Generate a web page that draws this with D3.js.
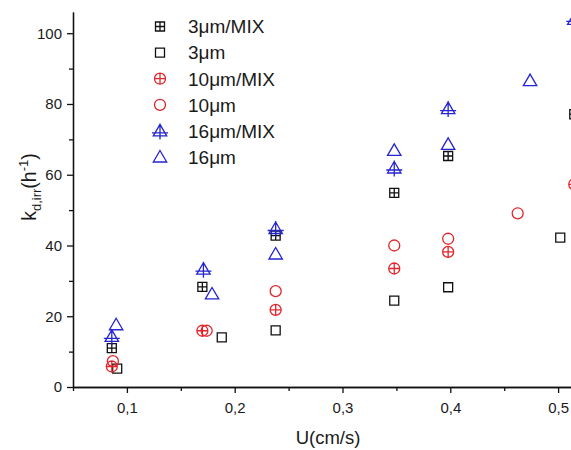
<!DOCTYPE html>
<html>
<head>
<meta charset="utf-8">
<script src="https://cdn.jsdelivr.net/npm/d3@7"></script>
<style>
  body { margin: 0; background: #fff; }
  svg { display: block; font-family: "Liberation Sans", Arial, sans-serif; }
</style>
</head>
<body>
<svg id="chart" width="571" height="450"></svg>
<script>
// series values
const seriesNames = ["3\u03bcm/MIX", "3\u03bcm", "10\u03bcm/MIX", "10\u03bcm", "16\u03bcm/MIX", "16\u03bcm"];

const x3mix = [0.086, 0.170, 0.238, 0.348, 0.398, 0.515];
const y3mix = [11.0, 28.3, 42.8, 54.9, 65.3, 77.1];

const x3 = [0.091, 0.188, 0.238, 0.348, 0.398, 0.502];
const y3 = [5.2, 14.0, 16.0, 24.4, 28.2, 42.2];

const x10mix = [0.086, 0.170, 0.238, 0.348, 0.398, 0.515];
const y10mix = [5.8, 15.9, 21.8, 33.5, 38.2, 57.3];

const x10 = [0.087, 0.174, 0.238, 0.348, 0.398, 0.4625];
const y10 = [7.3, 15.9, 27.1, 40.0, 41.9, 49.1];

const x16mix = [0.086, 0.171, 0.238, 0.348, 0.398, 0.515];
const y16mix = [14.3, 33.3, 44.8, 61.9, 78.7, 103.9];

const x16 = [0.090, 0.179, 0.238, 0.348, 0.398, 0.474];
const y16 = [17.6, 26.3, 37.6, 66.9, 68.6, 86.6];

// tick labels
const xMajor = [0.1, 0.2, 0.3, 0.4, 0.5];
const xMinor = [0.05, 0.15, 0.25, 0.35, 0.45];
const yMajor = [0, 20, 40, 60, 80, 100];
const yMinor = [10, 30, 50, 70, 90];

const black = "#111";
const red = "#e3262c";
const blue = "#2424d2";

const series = [
  { name: seriesNames[0], xs: x3mix, ys: y3mix, shape: "square", cross: true, color: black },
  { name: seriesNames[1], xs: x3, ys: y3, shape: "square", cross: false, color: black },
  { name: seriesNames[2], xs: x10mix, ys: y10mix, shape: "circle", cross: true, color: red },
  { name: seriesNames[3], xs: x10, ys: y10, shape: "circle", cross: false, color: red },
  { name: seriesNames[4], xs: x16mix, ys: y16mix, shape: "triangle", cross: true, color: blue },
  { name: seriesNames[5], xs: x16, ys: y16, shape: "triangle", cross: false, color: blue }
];

const svg = d3.select("#chart");
const padLeft = 73, padBottom = 387, padTop = 12;

const xScale = d3.scaleLinear().domain([0.05, 0.525]).range([padLeft, padLeft + 0.475 * 1078]);
const yScale = d3.scaleLinear().domain([0, 106]).range([padBottom, padTop]);

// marker outlines
function markerPath(shape, cross) {
  const p = d3.path();
  if (shape === "square") {
    const h = 4.5;
    p.rect(-h, -h, 2 * h, 2 * h);
    if (cross) {
      p.moveTo(-h, 0); p.lineTo(h, 0);
      p.moveTo(0, -h); p.lineTo(0, h);
    }
  } else if (shape === "circle") {
    const r = 5.5;
    p.moveTo(r, 0);
    p.arc(0, 0, r, 0, 2 * Math.PI);
    if (cross) {
      p.moveTo(-r, 0); p.lineTo(r, 0);
      p.moveTo(0, -r); p.lineTo(0, r);
    }
  } else {
    p.moveTo(0, -6.5);
    p.lineTo(6.7, 5);
    p.lineTo(-6.7, 5);
    p.closePath();
    if (cross) {
      p.moveTo(0, -7.5); p.lineTo(0, 8.5);
      p.moveTo(-8, 2); p.lineTo(8, 2);
    }
  }
  return p.toString();
}

// axes
const fmt = d => d3.format(".1f")(d).replace(".", ",");

svg.append("g")
  .attr("transform", `translate(${padLeft},0)`)
  .call(d3.axisLeft(yScale).tickValues(yMajor).tickSize(6).tickSizeOuter(0).tickPadding(5));
svg.append("g")
  .attr("transform", `translate(${padLeft},0)`)
  .call(d3.axisLeft(yScale).tickValues(yMinor).tickSize(4).tickSizeOuter(0).tickFormat(""));

svg.append("g")
  .attr("transform", `translate(0,${padBottom})`)
  .call(d3.axisBottom(xScale).tickValues(xMajor).tickSize(6).tickSizeOuter(0).tickPadding(9).tickFormat(fmt));
svg.append("g")
  .attr("transform", `translate(0,${padBottom})`)
  .call(d3.axisBottom(xScale).tickValues(xMinor).tickSize(4).tickSizeOuter(0).tickFormat(""));

svg.selectAll(".domain, .tick line").attr("stroke", "#111").attr("stroke-width", 1.3);
svg.selectAll(".tick text").attr("font-size", 15).attr("fill", "#1a1a1a")
  .attr("font-family", "Liberation Sans, Arial, sans-serif");

// axis titles
svg.append("text")
  .attr("x", 328).attr("y", 444)
  .attr("text-anchor", "middle")
  .attr("font-size", 18.5).attr("fill", "#1a1a1a")
  .text("U(cm/s)");

const yt = svg.append("text")
  .attr("transform", "translate(36,187) rotate(-90)")
  .attr("text-anchor", "middle")
  .attr("font-size", 19.5).attr("fill", "#1a1a1a");
yt.append("tspan").text("k");
yt.append("tspan").attr("font-size", 13).attr("dy", 5).text("d,irr");
yt.append("tspan").attr("dy", -5).text("(h");
yt.append("tspan").attr("font-size", 13).attr("dy", -8).text("-1");
yt.append("tspan").attr("dy", 8).text(")");

// points
series.forEach(s => {
  const pts = s.xs.map((x, i) => [x, s.ys[i]]);
  svg.append("g").selectAll("path")
    .data(pts)
    .enter()
    .append("path")
    .attr("d", markerPath(s.shape, s.cross))
    .attr("transform", d => `translate(${xScale(d[0])},${yScale(d[1])})`)
    .attr("fill", "none")
    .attr("stroke", s.color)
    .attr("stroke-width", 1.3);
});

// legend
const legend = svg.append("g");
series.forEach((s, i) => {
  const yy = 26.5 + i * 26.1;
  legend.append("path")
    .attr("d", markerPath(s.shape, s.cross))
    .attr("transform", `translate(160,${yy})`)
    .attr("fill", "none")
    .attr("stroke", s.color)
    .attr("stroke-width", 1.3);
  legend.append("text")
    .attr("x", 188).attr("y", yy)
    .attr("dy", "0.36em")
    .attr("font-size", 19).attr("fill", "#1a1a1a")
    .text(s.name);
});
</script>
</body>
</html>
